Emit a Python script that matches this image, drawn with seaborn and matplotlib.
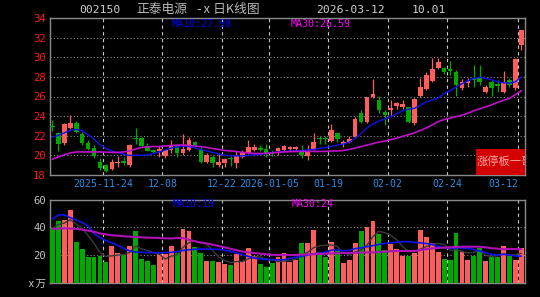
import numpy as np
import pandas as pd
import matplotlib
matplotlib.use("Agg")
import matplotlib.pyplot as plt
import seaborn as sns
from matplotlib.patches import Rectangle

# ---------------- data ----------------
opens = [23.0, 22.25, 21.25, 22.8, 23.3, 22.15, 21.3, 20.8, 19.35, 19.0,
         18.6, 19.2, 19.45, 19.0, 21.8, 21.8, 21.0, 20.55, 20.4, 19.9,
         20.55, 20.95, 20.2, 20.55, 21.4, 20.7, 19.35, 19.85, 19.0, 19.2,
         19.75, 19.25, 19.85, 20.2, 20.55, 20.8, 20.6, 20.35, 20.4, 20.55,
         20.6, 20.6, 20.35, 19.95, 20.6, 21.75, 21.72, 21.5, 22.3, 21.15,
         21.4, 21.85, 24.35, 23.45, 25.9, 25.6, 24.45, 24.6, 25.05, 24.95,
         24.9, 23.25, 26.05, 26.75, 27.6, 28.95, 28.95, 28.8, 28.5, 26.85,
         27.35, 27.85, 27.85, 26.5, 27.5, 27.25, 26.5, 27.7, 26.85, 31.25]
closes = [22.85, 21.15, 23.2, 23.3, 22.4, 21.3, 20.7, 19.9, 18.7, 18.45,
          19.35, 19.35, 19.25, 21.05, 21.65, 21.0, 20.45, 20.3, 20.7, 20.55,
          21.05, 20.2, 20.7, 21.55, 21.05, 19.35, 20.05, 19.2, 19.35, 19.6,
          19.65, 19.95, 20.35, 20.9, 20.9, 20.55, 20.15, 20.1, 20.8, 20.95,
          20.85, 20.85, 20.05, 20.35, 21.4, 21.65, 21.65, 22.6, 21.65, 21.4,
          21.65, 23.75, 23.45, 25.9, 26.3, 24.6, 24.1, 24.85, 25.3, 25.2,
          23.45, 25.7, 26.95, 28.2, 28.85, 29.55, 28.45, 28.6, 27.15, 27.5,
          27.6, 27.7, 27.5, 27.0, 26.85, 27.05, 27.5, 27.15, 29.8, 32.78]
highs = [23.6, 22.4, 23.3, 24.1, 23.5, 22.4, 21.55, 21.05, 19.7, 19.1,
         19.6, 19.9, 19.85, 21.2, 22.75, 21.9, 21.25, 20.7, 20.95, 20.7,
         21.55, 21.05, 22.2, 21.9, 21.5, 20.85, 20.2, 20.05, 20.2, 19.7,
         19.9, 20.4, 20.55, 21.55, 21.2, 21.05, 21.15, 20.5, 20.9, 21.1,
         21.0, 21.0, 21.05, 21.05, 22.25, 21.95, 21.95, 23.2, 22.35, 21.55,
         21.95, 23.9, 24.6, 26.0, 27.8, 26.05, 24.6, 25.6, 25.4, 25.6,
         24.95, 25.8, 27.85, 28.5, 29.95, 29.9, 29.05, 29.6, 28.75, 27.75,
         27.9, 29.2, 29.2, 27.2, 27.7, 27.7, 28.6, 27.85, 29.9, 32.78]
lows = [22.5, 20.4, 21.1, 22.7, 22.25, 21.05, 20.55, 19.7, 18.5, 18.35,
        18.5, 18.85, 19.0, 18.85, 21.2, 20.95, 20.4, 20.2, 19.85, 19.7,
        20.2, 19.85, 20.0, 20.4, 20.9, 19.2, 19.2, 18.85, 18.85, 18.85,
        18.95, 18.7, 19.7, 20.15, 20.4, 20.4, 19.85, 19.9, 20.05, 20.4,
        20.45, 20.5, 19.7, 19.5, 20.5, 21.2, 21.2, 21.4, 21.4, 20.85,
        21.3, 21.75, 23.35, 23.35, 25.8, 24.3, 23.1, 24.0, 24.7, 24.7,
        23.35, 23.1, 25.95, 26.7, 27.5, 28.8, 28.25, 28.2, 26.05, 26.7,
        26.95, 27.0, 27.2, 26.35, 26.05, 26.5, 26.4, 26.95, 26.7, 30.7]
volumes = [39.3, 44.8, 45.3, 52.5, 29.6, 24.1, 18.3, 18.3, 19.0, 14.7,
           26.7, 21.2, 20.0, 26.7, 37.6, 16.9, 15.4, 12.5, 20.5, 20.5,
           26.7, 21.2, 39.0, 37.6, 25.5, 21.7, 15.7, 15.4, 14.7, 13.5,
           12.5, 20.5, 15.4, 24.8, 19.3, 13.3, 11.1, 14.2, 18.6, 21.2,
           15.2, 16.4, 28.4, 28.4, 38.1, 21.9, 18.8, 29.2, 22.9, 14.2,
           16.1, 28.4, 37.3, 40.0, 44.8, 35.2, 23.6, 27.7, 24.3, 19.3,
           19.3, 21.2, 37.8, 32.8, 28.4, 21.9, 17.1, 16.4, 35.7, 21.9,
           16.4, 19.3, 24.8, 15.7, 18.8, 18.8, 26.5, 20.0, 16.4, 24.8]
ma10 = [21.85, 22.05, 22.3, 22.55, 22.65, 22.5, 22.1, 21.65, 21.1, 20.7,
        20.45, 20.3, 20.1, 20.0, 20.0, 20.0, 20.05, 20.2, 20.35, 20.55,
        20.75, 20.85, 20.95, 20.9, 20.75, 20.6, 20.45, 20.3, 20.15, 20.0,
        19.95, 19.95, 19.95, 20.0, 20.05, 20.1, 20.2, 20.3, 20.35, 20.4,
        20.42, 20.45, 20.5, 20.55, 20.6, 20.7, 20.8, 20.9, 21.05, 21.15,
        21.35, 21.75, 22.25, 22.8, 23.2, 23.5, 23.7, 23.95, 24.25, 24.55,
        24.7, 24.8, 25.1, 25.45, 25.65, 25.85, 26.3, 26.6, 26.95, 27.3,
        27.6, 27.85, 27.95, 27.85, 27.7, 27.5, 27.4, 27.35, 27.5, 27.98]
ma30 = [19.6, 19.85, 20.05, 20.25, 20.35, 20.35, 20.35, 20.35, 20.35, 20.33,
        20.3, 20.3, 20.35, 20.45, 20.65, 20.8, 20.85, 20.9, 20.9, 20.95,
        21.0, 21.05, 21.05, 21.0, 20.95, 20.9, 20.8, 20.7, 20.6, 20.5,
        20.45, 20.4, 20.3, 20.25, 20.2, 20.2, 20.2, 20.25, 20.3, 20.35,
        20.38, 20.4, 20.4, 20.4, 20.4, 20.4, 20.4, 20.45, 20.45, 20.5,
        20.6, 20.75, 20.9, 21.05, 21.2, 21.35, 21.45, 21.6, 21.75, 21.95,
        22.1, 22.3, 22.55, 22.8, 23.1, 23.45, 23.65, 23.8, 23.95, 24.1,
        24.3, 24.55, 24.75, 24.95, 25.15, 25.4, 25.6, 25.8, 26.2, 26.59]
vol_ma10 = [46.0, 49.0, 49.0, 47.0, 45.3, 43.5, 41.0, 35.5, 32.5, 30.5,
            28.8, 27.0, 24.7, 23.0, 22.1, 21.9, 21.8, 21.7, 21.7, 21.8,
            21.9, 22.5, 23.3, 23.8, 24.2, 24.3, 24.3, 24.2, 24.1, 23.5,
            22.6, 21.5, 20.2, 19.0, 17.8, 17.2, 16.9, 16.7, 16.5, 16.6,
            17.6, 18.4, 19.0, 20.0, 20.8, 21.5, 22.0, 23.5, 23.8, 23.0,
            23.4, 24.6, 25.2, 26.0, 26.8, 27.7, 28.4, 28.9, 29.3, 29.6,
            29.6, 29.2, 28.8, 28.3, 27.6, 26.1, 25.4, 24.8, 25.2, 25.0,
            24.8, 24.0, 22.9, 21.8, 20.4, 20.0, 20.5, 20.0, 19.4, 19.2]
vol_ma30 = [38.8, 39.2, 39.3, 39.1, 38.9, 38.4, 37.6, 36.8, 35.6, 34.9,
            34.3, 34.0, 33.6, 33.3, 33.0, 32.8, 32.6, 32.5, 32.3, 32.1,
            32.0, 32.3, 32.2, 31.0, 30.0, 29.0, 28.4, 27.5, 26.5, 25.6,
            24.5, 23.5, 22.5, 21.9, 21.5, 21.0, 20.6, 20.2, 20.0, 20.0,
            20.0, 20.1, 20.3, 20.5, 20.6, 20.8, 21.0, 21.1, 21.3, 21.4,
            21.5, 21.7, 21.8, 21.9, 21.9, 22.2, 22.5, 22.8, 22.9, 22.9,
            22.9, 23.0, 23.5, 24.3, 24.8, 25.1, 25.3, 25.5, 25.9, 26.0,
            26.0, 26.0, 26.0, 25.6, 24.9, 24.6, 24.3, 24.3, 24.3, 24.3]
date_tick_idx = [9, 19, 29, 37, 47, 57, 67, 79]
date_tick_labels = ["2025-11-24", "12-08", "12-22", "2026-01-05",
                    "01-19", "02-02", "02-24", "03-12"]
price_ticks = [18, 20, 22, 24, 26, 28, 30, 32, 34]
price_grid = [20, 22, 24, 26, 28, 30, 32]
vol_ticks = [0, 20, 40, 60]
vol_tick_labels = ["ⅹ万", "20", "40", "60"]
vol_grid = [20, 40]

# ---------------- style ----------------
sns.set_theme(style="dark")
plt.rcParams["font.family"] = ["DejaVu Sans Mono", "Noto Sans CJK SC"]
CJK = ["Noto Sans CJK SC", "DejaVu Sans"]
UP, DOWN = "#ff5c5c", "#00a800"
BG = "black"
SPINE = "#8a8a8a"

n = len(closes)
idx = np.arange(n)
o = np.array(opens); c = np.array(closes)
h = np.array(highs); l = np.array(lows)
up = c >= o
cols = [UP if u else DOWN for u in up]

fig = plt.figure(figsize=(5.4, 2.97), dpi=100, facecolor=BG)
W, H = 540.0, 297.0
ax = fig.add_axes([50 / W, 1 - 175 / H, 475 / W, 157 / H])
ax2 = fig.add_axes([50 / W, 1 - 282.7 / H, 475 / W, 83 / H])

for a in (ax, ax2):
    a.set_facecolor(BG)
    for s in a.spines.values():
        s.set_color(SPINE)
        s.set_linewidth(1.0)
    a.grid(False)
    a.set_xlim(-0.42, 79.62)

# grid lines
for y in price_grid:
    ax.axhline(y, color="#8c8c8c", lw=0.8, ls=(0, (1, 2)), zorder=1)
for y in vol_grid:
    ax2.axhline(y, color="#8c8c8c", lw=0.8, ls=(0, (1, 2)), zorder=1)
for t in date_tick_idx:
    ax.axvline(t - 0.5, color="#c8c8c8", lw=0.8, ls=(0, (3, 3)), zorder=1)
    ax2.axvline(t - 0.5, color="#c8c8c8", lw=0.8, ls=(0, (3, 3)), zorder=1)

# candles
ax.vlines(idx, l, h, colors=cols, lw=0.9, zorder=3)
body_lo = np.minimum(o, c)
body_h = np.maximum(np.abs(c - o), 0.07)
ax.bar(idx, body_h, bottom=body_lo, width=0.78, color=cols, linewidth=0, zorder=3)

# price moving averages
sns.lineplot(x=idx, y=ma10, ax=ax, color="#1010f0", lw=1.0, zorder=4)
sns.lineplot(x=idx, y=ma30, ax=ax, color="#c010c8", lw=1.2, zorder=4)

ax.set_ylim(18, 34)
ax.set_yticks(price_ticks)
ax.set_yticklabels([str(v) for v in price_ticks])
ax.tick_params(axis="y", length=0, pad=3, labelsize=7.6, labelcolor="#ff1a1a")
ax.set_xticks([t - 0.5 for t in date_tick_idx])
ax.set_xticklabels(date_tick_labels)
ax.tick_params(axis="x", length=0, pad=3, labelsize=7.1, labelcolor="#2a8fe6")
ax.get_xticklabels()[-1].set_ha("right")
ax.set_xlabel(""); ax.set_ylabel("")

# legend texts
ax.text(0.257, 0.962, "MA10:27.98", transform=ax.transAxes, color="#0000ff",
        fontsize=7.2, va="center", ha="left", zorder=6)
ax.text(0.507, 0.962, "MA30:26.59", transform=ax.transAxes, color="#ff00ff",
        fontsize=7.2, va="center", ha="left", zorder=6)

# red badge
ax.add_patch(Rectangle((0.897, 0.0), 0.103, 0.166, transform=ax.transAxes,
                       facecolor="#d40000", edgecolor="none", zorder=5))
ax.text(0.899, 0.083, "涨停板一哥", transform=ax.transAxes, color="#ffa6a6",
        fontsize=8.1, va="center", ha="left", family=CJK, zorder=6, clip_on=True)

# volume bars
dirs = ["up" if u else "down" for u in up]
sns.barplot(x=idx, y=volumes, hue=dirs, palette={"up": UP, "down": DOWN},
            dodge=False, width=0.82, saturation=1, legend=False,
            native_scale=True, errorbar=None, linewidth=0, ax=ax2, zorder=3)
vol_ma5 = pd.Series(volumes).rolling(5, min_periods=1).mean().values
sns.lineplot(x=idx, y=vol_ma5, ax=ax2, color="#3a3a3a", lw=1.0, zorder=4)
sns.lineplot(x=idx, y=vol_ma10, ax=ax2, color="#1010f0", lw=1.2, zorder=4)
sns.lineplot(x=idx, y=vol_ma30, ax=ax2, color="#b010b8", lw=1.5, zorder=4)
ax2.set_xlim(-0.42, 79.62)
ax2.set_ylim(0, 60)
ax2.set_yticks(vol_ticks)
ax2.set_yticklabels(vol_tick_labels)
ax2.tick_params(axis="y", length=0, pad=3, labelsize=7.6, labelcolor="#c0c0c0")
ax2.set_xticks([])
ax2.set_xlabel(""); ax2.set_ylabel("")
ax2.text(0.259, 0.948, "MA10:19", transform=ax2.transAxes, color="#0000ff",
         fontsize=7.2, va="center", ha="left", zorder=6)
ax2.text(0.509, 0.948, "MA30:24", transform=ax2.transAxes, color="#ff00ff",
         fontsize=7.2, va="center", ha="left", zorder=6)

# header
ty = 1 - 10 / H
fig.text(79 / W, ty, "002150", color="#d0d0d0", fontsize=8.2, va="center", ha="left")
fig.text(136 / W, ty, "正泰电源", color="#b8b8b8", fontsize=9.2, va="center",
         ha="left", family=CJK)
fig.text(196 / W, ty, "-ⅹ日K线图", color="#b8b8b8", fontsize=9.2, va="center",
         ha="left", family=CJK)
fig.text(316 / W, ty, "2026-03-12", color="#d0d0d0", fontsize=8.2, va="center", ha="left")
fig.text(412 / W, ty, "10.01", color="#d0d0d0", fontsize=8.2, va="center", ha="left")

fig.savefig("out.png", dpi=100, facecolor=BG)
